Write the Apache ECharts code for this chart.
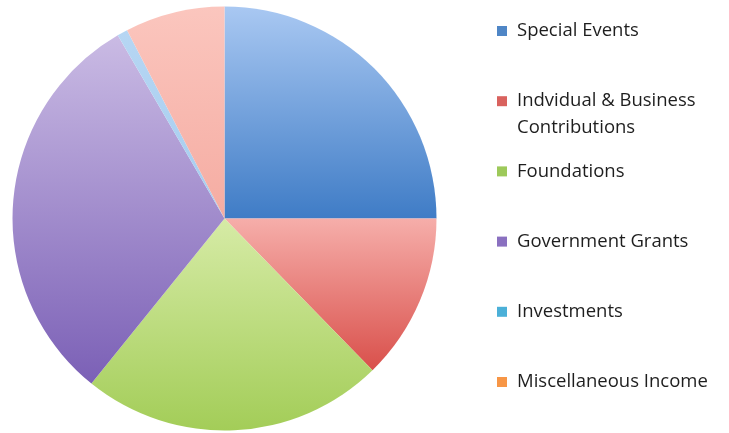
<!DOCTYPE html>
<html>
<head>
<meta charset="utf-8">
<script src="https://cdn.jsdelivr.net/npm/echarts@6/dist/echarts.min.js"></script>
<style>
    html, body { margin: 0; padding: 0; background: #fff; }
    #chart { width: 729px; height: 433px; }
</style>
</head>
<body>
<div id="chart"></div>
<script>
    // percent of total
    var categories = ['Special Events', 'Indvidual & Business', 'Foundations', 'Government Grants', 'Investments', 'Miscellaneous Income'];
    var values = [25.0, 12.7, 23.1, 30.8, 0.8, 7.6];
    var legendColors = ['#4f86c6', '#d9625e', '#9dc95a', '#8a70c0', '#4bb0d8', '#f79646'];
    var sliceTop = ['#a9c8f2', '#f6aeaa', '#d6eba6', '#cabbe4', '#b6d6f3', '#fbc6be'];
    var sliceBottom = ['#3f7cc6', '#d9504b', '#a3cd58', '#7b60b6', '#a6cdef', '#f5aca2'];

    var myChart = echarts.init(document.getElementById('chart'));

    var pieData = [];
    var legendData = [];
    for (var i = 0; i < categories.length; i++) {
        pieData.push({
            name: categories[i],
            value: values[i],
            itemStyle: {
                color: new echarts.graphic.LinearGradient(0, 0, 0, 1, [
                    { offset: 0, color: sliceTop[i] },
                    { offset: 1, color: sliceBottom[i] }
                ])
            }
        });
        legendData.push({ name: categories[i], itemStyle: { color: legendColors[i] } });
    }

    var option = {
        backgroundColor: '#fff',
        animation: false,
        legend: {
            orient: 'vertical',
            left: 497,
            top: 21,
            padding: 0,
            itemWidth: 10,
            itemHeight: 10,
            itemGap: 50.2,
            icon: 'rect',
            selectedMode: false,
            textStyle: {
                fontFamily: 'Open Sans',
                fontSize: 18.5,
                lineHeight: 20,
                color: '#1e1e1e',
                padding: [0, 0, 0, 5]
            },
            data: legendData
        },
        graphic: [
            {
                type: 'text',
                x: 517,
                y: 128,
                style: {
                    text: 'Contributions',
                    font: '18.5px "Open Sans"',
                    fill: '#1e1e1e',
                    verticalAlign: 'middle'
                }
            }
        ],
        series: [
            {
                type: 'pie',
                center: [224.5, 218.5],
                radius: 212,
                startAngle: 90,
                clockwise: true,
                label: { show: false },
                labelLine: { show: false },
                emphasis: { disabled: true },
                itemStyle: { borderWidth: 0 },
                data: pieData
            }
        ]
    };

    myChart.setOption(option);
</script>
</body>
</html>
